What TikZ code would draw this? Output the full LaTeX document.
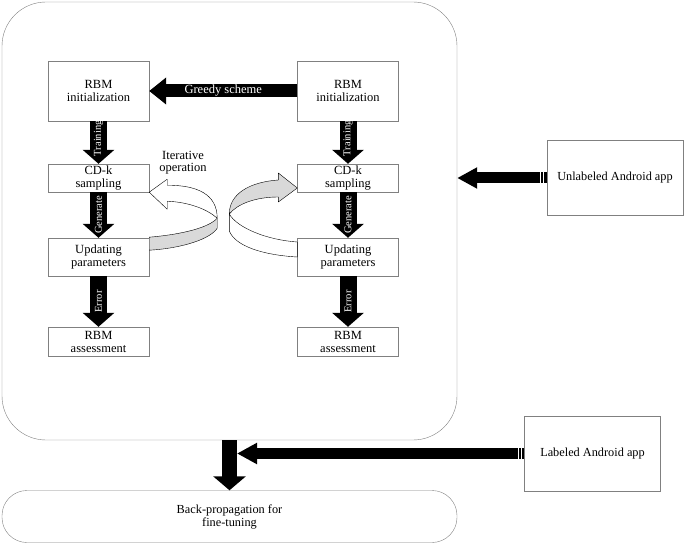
\documentclass[tikz,border=0pt]{standalone}
\usepackage{fontspec}
\setmainfont{Liberation Serif}
\usetikzlibrary{arrows.meta,calc}
\tikzset{
    rbm-box/.style = {draw=black!50, thin, rectangle, minimum width=101pt, inner sep=0pt, align=center, font=\fontsize{12.5}{13}\selectfont},
    app-box/.style = {draw=black!50, thin, rectangle, minimum width=136pt, minimum height=75pt, inner sep=0pt, font=\fontsize{12.3}{13}\selectfont},
    fat-arrow/.style = {draw=black, line width=17pt, -{Triangle[length=14pt, width=31pt]}},
    input-arrow/.style = {draw=black, line width=11pt, -{Triangle[length=20pt, width=20pt]}},
    arrow-label/.style = {text=white, font=\fontsize{10.5}{11}\selectfont, inner sep=0pt},
    ribbon/.style = {draw=black, thin, line join=round},
}
\begin{document}
\begin{tikzpicture}[x=1pt, y=-1pt]
\useasboundingbox (0,0) rectangle (685,545);
\node[draw=black!50, thin, rounded corners=44pt, minimum width=455pt, minimum height=438pt, inner sep=0pt] (frame) at (229.5,221) {};
\node[draw=black!50, thin, rounded corners=25pt, minimum width=455pt, minimum height=52pt, inner sep=0pt, align=center, font=\fontsize{12.3}{13}\selectfont] (backprop) at (229.5,516.5) {Back-propagation for\\fine-tuning};

\node[rbm-box, minimum height=60pt] (linit) at (98.5,91) {RBM\\initialization};
\node[rbm-box, minimum height=28pt] (lcd) at (98.5,178) {CD-k\\sampling};
\node[rbm-box, minimum height=38pt] (lupd) at (98.5,257) {Updating\\parameters};
\node[rbm-box, minimum height=29pt] (lassess) at (98.5,341.5) {RBM\\assessment};

\node[rbm-box, minimum height=60pt] (rinit) at (348,91) {RBM\\initialization};
\node[rbm-box, minimum height=28pt] (rcd) at (348,178) {CD-k\\sampling};
\node[rbm-box, minimum height=38pt] (rupd) at (348,257) {Updating\\parameters};
\node[rbm-box, minimum height=29pt] (rassess) at (348,341.5) {RBM\\assessment};

\foreach \col in {l,r} {
    \draw[fat-arrow] (\col init.south) -- (\col cd.north) node[arrow-label, rotate=90, pos=0.4] {Training};
    \draw[fat-arrow] (\col cd.south) -- (\col upd.north) node[arrow-label, rotate=90, midway] {Generate};
    \draw[fat-arrow] (\col upd.south) -- (\col assess.north) node[arrow-label, rotate=90, midway] {Error};
}

\draw[draw=black, line width=13pt, -{Triangle[length=17pt, width=26pt]}] (rinit.west) -- (linit.east) node[midway, text=white, font=\fontsize{12.5}{13}\selectfont] {Greedy scheme};

\node[align=center, font=\fontsize{12.5}{12}\selectfont, inner sep=0pt] (iter) at (183,163) {Iterative\\operation};

\begin{scope}[shift={(lcd.south east)}]
    \draw[ribbon, fill=white] (0,0) -- (18,-13) -- (18,-7) .. controls (48,-7) and (68,2) .. (68,26) .. controls (58,17) and (40,10) .. (18,9) -- (18,17) -- cycle;
    \draw[ribbon, fill=black!15] (0,45) .. controls (35,42) and (60,35) .. (68,26) -- (68,36) .. controls (62,46) and (35,56) .. (0,58) -- cycle;
\end{scope}
\begin{scope}[shift={($(rcd.west)+(0,10)$)}]
    \draw[ribbon, fill=black!15] (0,0) -- (-19,-15) -- (-19,-8) .. controls (-48,-6) and (-68,6) .. (-68,26) .. controls (-60,16) and (-42,9) .. (-19,9) -- (-19,14) -- cycle;
    \draw[ribbon, fill=white] (-68,26) .. controls (-60,40) and (-30,52) .. (0,54) -- (0,69) .. controls (-35,67) and (-62,58) .. (-68,43) -- cycle;
\end{scope}

\node[app-box] (unl) at (615,178) {Unlabeled Android app};
\node[app-box] (lab) at (592.5,453.5) {Labeled Android app};

\draw[input-arrow] (unl.west) -- (unl.west -| frame.east);
\draw[draw=black, line width=15pt, -{Triangle[length=14pt, width=32pt]}] (frame.south) -- (backprop.north);
\coordinate (merge) at ($(frame.south)+(7.5,0)$);
\draw[input-arrow] (lab.west) -- (lab.west -| merge);
\foreach \src in {unl,lab}
    \foreach \d in {3,6}
        \draw[white, line width=0.8pt] ($(\src.west)+(-\d,-5.5)$) -- ++(0,11);
\end{tikzpicture}
\end{document}
